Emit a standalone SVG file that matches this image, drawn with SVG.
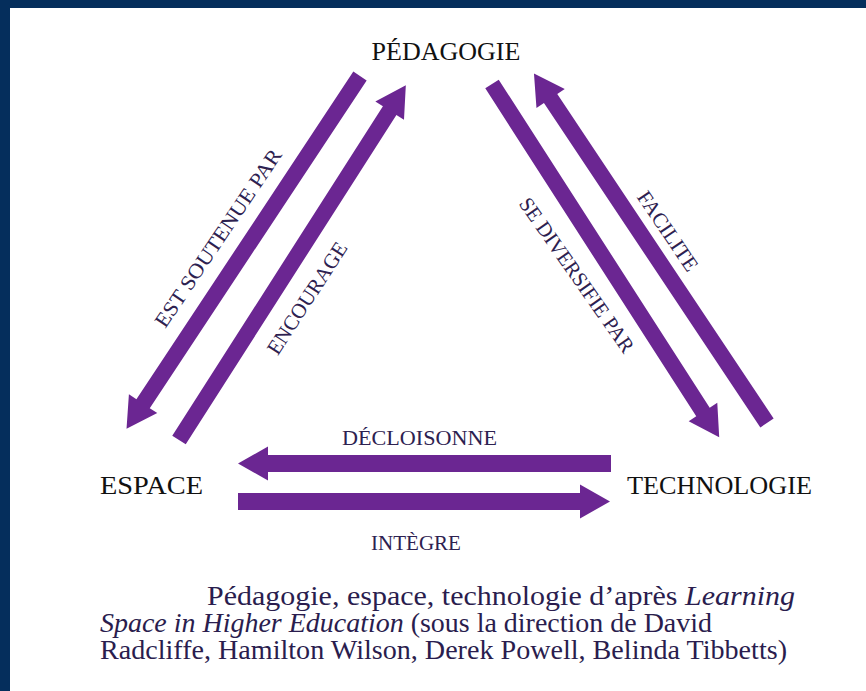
<svg xmlns="http://www.w3.org/2000/svg" width="866" height="691" viewBox="0 0 866 691">
  <style>
    .node { font-family: "Liberation Serif", "Times New Roman", serif; font-size: 26px; fill: #111111; }
    .lbl { font-family: "Liberation Serif", "Times New Roman", serif; font-size: 21px; fill: #2d2150; text-anchor: middle; }
    .arrow { fill: #6b2692; }
    .cap { font-family: "Liberation Serif", "Times New Roman", serif; font-size: 27px; fill: #2a1d4e; }
  </style>
  <rect x="0" y="0" width="866" height="691" fill="#052e5c"/>
  <rect x="10" y="8" width="856" height="683" fill="#ffffff"/>

  <g id="node-pedagogie">
    <text class="node" x="446" y="60" text-anchor="middle">PÉDAGOGIE</text>
  </g>
  <g id="node-espace">
    <text class="node" x="100" y="494" textLength="103" lengthAdjust="spacingAndGlyphs">ESPACE</text>
  </g>
  <g id="node-technologie">
    <text class="node" x="627" y="494" textLength="185" lengthAdjust="spacingAndGlyphs">TECHNOLOGIE</text>
  </g>

  <g id="connectors">
    <g id="edge-est-soutenue-par">
      <polygon class="arrow" transform="translate(360,76) rotate(123.5)" points="0,-8 393,-8 393,-17 423,0 393,17 393,8 0,8"/>
      <text class="lbl" transform="translate(224,242) rotate(-56)" textLength="210" lengthAdjust="spacingAndGlyphs">EST SOUTENUE PAR</text>
    </g>
    <g id="edge-encourage">
      <polygon class="arrow" transform="translate(179,440) rotate(-57.4)" points="0,-8 391,-8 391,-17 421,0 391,17 391,8 0,8"/>
      <text class="lbl" transform="translate(313,302) rotate(-57)">ENCOURAGE</text>
    </g>
    <g id="edge-se-diversifie-par">
      <polygon class="arrow" transform="translate(492,84) rotate(57.25)" points="0,-8 390,-8 390,-17 420,0 390,17 390,8 0,8"/>
      <text class="lbl" transform="translate(571,279) rotate(55)" textLength="184" lengthAdjust="spacingAndGlyphs">SE DIVERSIFIE PAR</text>
    </g>
    <g id="edge-facilite">
      <polygon class="arrow" transform="translate(767,423) rotate(-123.7)" points="0,-8 390,-8 390,-17 420,0 390,17 390,8 0,8"/>
      <text class="lbl" transform="translate(662,235) rotate(56)">FACILITE</text>
    </g>
    <g id="edge-decloisonne">
      <polygon class="arrow" transform="translate(611,463.5) rotate(180)" points="0,-8.5 343,-8.5 343,-17 373,0 343,17 343,8.5 0,8.5"/>
      <text class="lbl" x="419.5" y="445" textLength="155" lengthAdjust="spacingAndGlyphs">DÉCLOISONNE</text>
    </g>
    <g id="edge-integre">
      <polygon class="arrow" transform="translate(238,501.5)" points="0,-8.5 342,-8.5 342,-17 372,0 342,17 342,8.5 0,8.5"/>
      <text class="lbl" x="416" y="550">INTÈGRE</text>
    </g>
  </g>

  <g id="caption">
    <text class="cap" x="207" y="605" textLength="588" lengthAdjust="spacingAndGlyphs">Pédagogie, espace, technologie d’après <tspan font-style="italic">Learning</tspan></text>
    <text class="cap" x="100" y="632" textLength="612" lengthAdjust="spacingAndGlyphs"><tspan font-style="italic">Space in Higher Education</tspan> (sous la direction de David</text>
    <text class="cap" x="100" y="659" textLength="687" lengthAdjust="spacingAndGlyphs">Radcliffe, Hamilton Wilson, Derek Powell, Belinda Tibbetts)</text>
  </g>
</svg>
